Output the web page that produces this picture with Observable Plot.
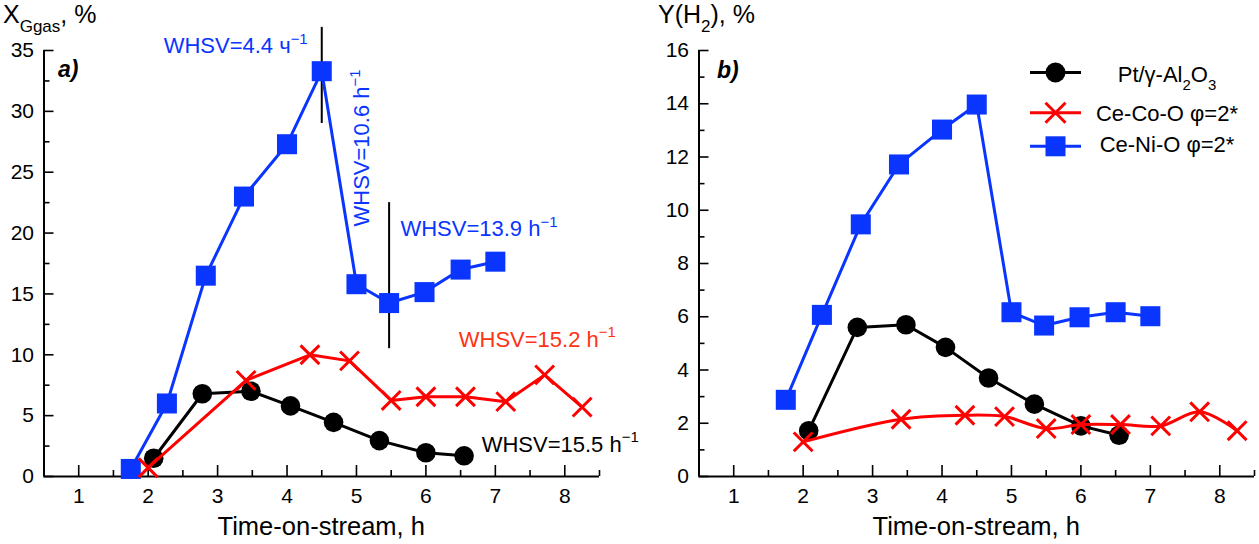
<!DOCTYPE html>
<html><head><meta charset="utf-8">
<script src="https://cdn.jsdelivr.net/npm/d3@7"></script>
<script src="https://cdn.jsdelivr.net/npm/@observablehq/plot@0.6"></script>
<style>
body{margin:0;background:#fff;}
#wrap{display:flex;width:1259px;height:544px;overflow:hidden;}
</style></head><body><div id="wrap"></div>
<script>
// ---------- data ----------
const ptTime = [2.08, 2.78, 3.48, 4.05, 4.67, 5.33, 6.0, 6.55];
const ptConv = [1.5, 6.8, 7.0, 5.8, 4.45, 2.95, 1.95, 1.7];
const ptH2   = [1.72, 5.6, 5.7, 4.85, 3.7, 2.72, 1.9, 1.55];
const coTime = [2.0, 3.41, 4.33, 4.9, 5.5, 6.0, 6.57, 7.15, 7.71, 8.25];
const coConv = [0.72, 7.9, 10.0, 9.5, 6.25, 6.55, 6.55, 6.15, 8.35, 5.7];
const coH2   = [1.3, 2.15, 2.3, 2.25, 1.8, 1.95, 1.95, 1.9, 2.43, 1.72];
const niTime = [1.75, 2.27, 2.83, 3.38, 4.0, 4.5, 5.0, 5.47, 5.98, 6.5, 7.0];
const niConv = [0.62, 6.0, 16.5, 23.0, 27.3, 33.3, 15.8, 14.25, 15.15, 17.0, 17.65];
const niH2   = [2.88, 6.07, 9.47, 11.72, 13.03, 13.97, 6.17, 5.67, 5.98, 6.17, 6.02];

const xTicks = [1, 2, 3, 4, 5, 6, 7, 8];
const xMinor = [1.5, 2.5, 3.5, 4.5, 5.5, 6.5, 7.5, 8.5];
const yTicksA = [0, 5, 10, 15, 20, 25, 30, 35];
const yMinorA = [2.5, 7.5, 12.5, 17.5, 22.5, 27.5, 32.5];
const yTicksB = [0, 2, 4, 6, 8, 10, 12, 14, 16];
const yMinorB = [1, 3, 5, 7, 9, 11, 13, 15];

const seriesNames = ["Pt/γ-Al2O3", "Ce-Co-O φ=2*", "Ce-Ni-O φ=2*"];
const xTitle = "Time-on-stream, h";

// WHSV annotations (panel a), data units
const annA = [
  {x: 2.23, y: 34.75, text: "WHSV=4.4 ч", sup: "−1", color: "blue", rotate: 0},
  {x: 5.19, y: 20.5, text: "WHSV=10.6 h", sup: "−1", color: "blue", rotate: -90},
  {x: 5.64, y: 19.7, text: "WHSV=13.9 h", sup: "−1", color: "blue", rotate: 0},
  {x: 6.48, y: 10.62, text: "WHSV=15.2 h", sup: "−1", color: "orange", rotate: 0},
  {x: 6.81, y: 2.0, text: "WHSV=15.5 h", sup: "−1", color: "black", rotate: 0}
];
// vertical separator lines (panel a)
const sepLines = [
  {x: 4.5, y1: 29.0, y2: 36.9},
  {x: 5.47, y1: 10.5, y2: 22.5}
];

// ---------- styles ----------
const BLUE = "#0a35ff", RED = "#ff0000", ORANGE = "#ff3214", BLACK = "#000000";
const colorMap = {blue: BLUE, orange: ORANGE, black: BLACK};
const FONT = "'Liberation Sans', Arial, Helvetica, sans-serif";
const H = 544, MT = 50, MB = 68;
const plotH = H - MT - MB;

const zip = (t, v) => t.map((x, i) => ({x, y: v[i]}));

function panel({width, ml, mr, yDomain, yTicks, yMinor, pt, co, ni, coCurve, extra = []}) {
  const plotW = width - ml - mr;
  return Plot.plot({
    width, height: H, marginLeft: ml, marginRight: mr, marginTop: MT, marginBottom: MB,
    style: {fontFamily: FONT, fontSize: "21px", background: "white", overflow: "visible", color: "black"},
    x: {domain: [0.5, 8.5]},
    y: {domain: yDomain},
    marks: [
      Plot.ruleX([0.5], {stroke: "black", strokeWidth: 2}),
      Plot.ruleY([yDomain[0]], {stroke: "black", strokeWidth: 2}),
      Plot.tickX(xTicks, {x: d => d, insetTop: plotH - 11, stroke: "black", strokeWidth: 1.6}),
      Plot.tickX(xMinor, {x: d => d, insetTop: plotH - 6, stroke: "black", strokeWidth: 1.6}),
      Plot.tickY(yTicks, {y: d => d, insetRight: plotW - 10, stroke: "black", strokeWidth: 1.6}),
      Plot.tickY(yMinor, {y: d => d, insetRight: plotW - 6, stroke: "black", strokeWidth: 1.6}),
      Plot.axisX({ticks: xTicks, tickSize: 0, tickPadding: 12, label: null, tickFormat: d => String(d)}),
      Plot.axisY({ticks: yTicks, tickSize: 0, tickPadding: 10, label: null, tickFormat: d => String(d)}),
      ...extra,
      Plot.line(ni, {x: "x", y: "y", stroke: BLUE, strokeWidth: 3}),
      Plot.dot(ni, {x: "x", y: "y", symbol: "square", r: 11.3, fill: BLUE}),
      Plot.line(pt, {x: "x", y: "y", stroke: BLACK, strokeWidth: 3}),
      Plot.dot(pt, {x: "x", y: "y", symbol: "circle", r: 9.8, fill: BLACK}),
      Plot.line(co, {x: "x", y: "y", stroke: RED, strokeWidth: 3, curve: coCurve}),
      Plot.dot(co, {x: "x", y: "y", symbol: "times", r: 8.6, stroke: RED, strokeWidth: 3, fill: "none"})
    ]
  });
}

function rich(svg, x, y, parts, {size = 22, fill = "black", anchor = "start", rotate = 0, weight = null, italic = false} = {}) {
  const t = d3.select(svg).append("text")
    .attr("font-family", FONT).attr("font-size", size).attr("fill", fill)
    .attr("text-anchor", anchor);
  if (weight) t.attr("font-weight", weight);
  if (italic) t.attr("font-style", "italic");
  if (rotate) t.attr("transform", `translate(${x},${y}) rotate(${rotate})`);
  else t.attr("x", x).attr("y", y);
  let cur = 0;
  for (const p of parts) {
    const want = p.sup ? -0.42 * size : p.sub ? 0.36 * size : 0;
    const s = t.append("tspan").text(p.t).attr("dy", want - cur);
    if (p.sup || p.sub) s.attr("font-size", size * 0.68);
    cur = want;
  }
  return t;
}

// ---------- panel a ----------
const svgA = panel({
  width: 640, ml: 43.5, mr: 41, yDomain: [0, 35], yTicks: yTicksA, yMinor: yMinorA,
  pt: zip(ptTime, ptConv), co: zip(coTime, coConv), ni: zip(niTime, niConv), coCurve: "linear",
  extra: [Plot.ruleX(sepLines, {x: "x", y1: "y1", y2: "y2", stroke: "black", strokeWidth: 2})]
});
const sxA = svgA.scale("x"), syA = svgA.scale("y");
for (const a of annA) {
  rich(svgA, sxA.apply(a.x), syA.apply(a.y), [{t: a.text}, {t: a.sup, sup: true}],
       {size: 22, fill: colorMap[a.color], rotate: a.rotate});
}
rich(svgA, 3, 23, [{t: "X"}, {t: "Ggas", sub: true}, {t: ", %"}], {size: 25});
rich(svgA, sxA.apply(0.5) + 14.5, 77, [{t: "a)"}], {size: 23, weight: "bold", italic: true});
rich(svgA, (sxA.apply(0.5) + sxA.apply(8.5)) / 2, 535, [{t: xTitle}], {size: 25.5, anchor: "middle"});

// ---------- panel b ----------
const svgB = panel({
  width: 619, ml: 58.5, mr: 5, yDomain: [0, 16], yTicks: yTicksB, yMinor: yMinorB,
  pt: zip(ptTime, ptH2), co: zip(coTime, coH2), ni: zip(niTime, niH2), coCurve: "catmull-rom"
});
const sxB = svgB.scale("x");
rich(svgB, 18, 23, [{t: "Y(H"}, {t: "2", sub: true}, {t: "), %"}], {size: 25});
rich(svgB, sxB.apply(0.5) + 18.5, 78, [{t: "b)"}], {size: 23, weight: "bold", italic: true});
rich(svgB, (sxB.apply(0.5) + sxB.apply(8.5)) / 2, 535, [{t: xTitle}], {size: 25.5, anchor: "middle"});

// legend
const lg = d3.select(svgB).append("g");
const rows = [
  {y: 72.5, base: 82, color: BLACK, sym: "circle", parts: [{t: "Pt/γ-Al"}, {t: "2", sub: true}, {t: "O"}, {t: "3", sub: true}]},
  {y: 112.8, base: 121, color: RED, sym: "times", parts: [{t: seriesNames[1]}]},
  {y: 146.3, base: 152, color: BLUE, sym: "square", parts: [{t: seriesNames[2]}]}
];
for (const r of rows) {
  lg.append("line").attr("x1", 390).attr("x2", 441).attr("y1", r.y).attr("y2", r.y)
    .attr("stroke", r.color).attr("stroke-width", 3);
  if (r.sym === "circle") lg.append("circle").attr("cx", 415.5).attr("cy", r.y).attr("r", 10).attr("fill", r.color);
  else if (r.sym === "square") lg.append("rect").attr("x", 405.5).attr("y", r.y - 10).attr("width", 20).attr("height", 20).attr("fill", r.color);
  else lg.append("path").attr("d", `M${405.5},${r.y - 10}L${425.5},${r.y + 10}M${405.5},${r.y + 10}L${425.5},${r.y - 10}`)
    .attr("stroke", r.color).attr("stroke-width", 3);
  rich(svgB, 527, r.base, r.parts, {size: 22, anchor: "middle"});
}

document.getElementById("wrap").append(svgA, svgB);
</script></body></html>
